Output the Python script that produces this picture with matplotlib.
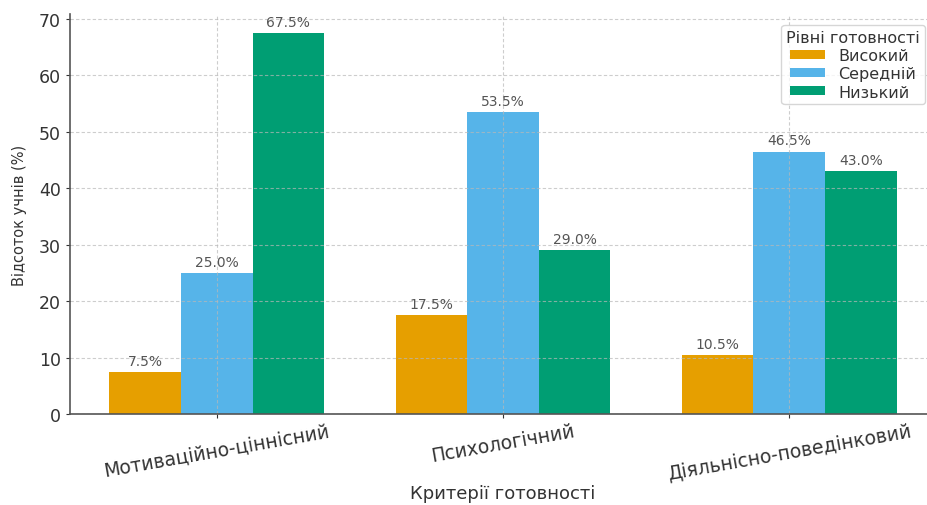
import matplotlib
matplotlib.use("Agg")
import matplotlib.pyplot as plt
import numpy as np

categories = ["Мотиваційно-ціннісний", "Психологічний", "Діяльнісно-поведінковий"]
levels = ["Високий", "Середній", "Низький"]
high = [7.5, 17.5, 10.5]
medium = [25.0, 53.5, 46.5]
low = [67.5, 29.0, 43.0]
colors = ["#E69F00", "#56B4E9", "#009E73"]

plt.rcParams['font.family'] = ['DejaVu Sans']
fig = plt.figure(figsize=(9.27, 5.06), dpi=100)
ax = fig.add_axes([70/927, 91/506, 866/927, 400/506])

x = np.arange(len(categories))
w = 0.25
series = [high, medium, low]
for i, (vals, lab, col) in enumerate(zip(series, levels, colors)):
    bars = ax.bar(x + (i - 1) * w, vals, w, label=lab, color=col)
    ax.bar_label(bars, labels=[f"{v:.1f}%" for v in vals], padding=3,
                 fontsize=10, color="#555555")

ax.set_xticks(x)
ax.set_xticklabels(categories, rotation=10, fontsize=13.5, color="#333333")
ax.tick_params(axis='y', labelsize=12.5, colors="#333333", length=3)
ax.tick_params(axis='x', colors="#333333", length=3, pad=2)
ax.set_ylabel("Відсоток учнів (%)", fontsize=10.5, color="#333333")
ax.yaxis.label.set_va('center')
ax.yaxis.set_label_coords(-0.058, 0.5)
ax.set_xlabel("Критерії готовності", fontsize=13, color="#333333")
ax.xaxis.label.set_va('center')
ax.xaxis.set_label_coords(0.5, -0.1975)
ax.grid(True, linestyle=(0, (3, 2)), color="#b8b8b8", linewidth=0.8, alpha=0.7)
for s in ["top", "right"]:
    ax.spines[s].set_visible(False)
for s in ["left", "bottom"]:
    ax.spines[s].set_color("#555555")
    ax.spines[s].set_linewidth(1.2)
leg = ax.legend(title="Рівні готовності", loc="upper right", fontsize=11.5,
                title_fontsize=11.5, frameon=True, handlelength=2.2,
                handleheight=0.5, labelspacing=0.2, borderpad=0.3,
                borderaxespad=0.7)
leg.get_frame().set_edgecolor("#cccccc")
for t in leg.get_texts():
    t.set_color("#333333")
leg.get_title().set_color("#333333")
fig.savefig("out.png", dpi=100)
